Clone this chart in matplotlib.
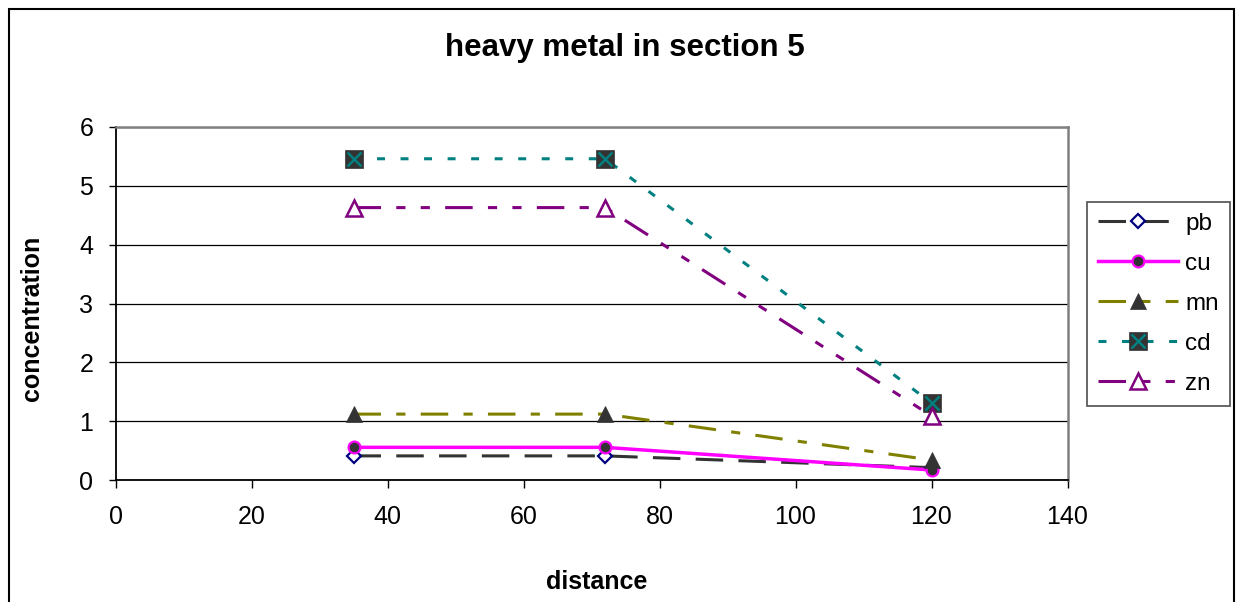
import matplotlib
matplotlib.use("Agg")
import matplotlib.pyplot as plt
from matplotlib.patches import Rectangle
from matplotlib.legend_handler import HandlerTuple

plt.rcParams['font.family'] = ['Liberation Sans', 'DejaVu Sans']

# ---- data ----
distance = [35, 72, 120]
pb = [0.41, 0.41, 0.21]
cu = [0.555, 0.555, 0.17]
mn = [1.12, 1.12, 0.34]
cd = [5.46, 5.46, 1.31]
zn = [4.63, 4.63, 1.09]
series_names = ["pb", "cu", "mn", "cd", "zn"]
title = "heavy metal in section 5"
xlabel = "distance"
ylabel = "concentration"
xticks = [0, 20, 40, 60, 80, 100, 120, 140]
yticks = [0, 1, 2, 3, 4, 5, 6]

W, H = 1236, 602
fig = plt.figure(figsize=(W / 100, H / 100), dpi=100)

# axes placement in pixels
L, R, T, B = 115.5, 1067.5, 127, 480
ax = fig.add_axes([L / W, 1 - B / H, (R - L) / W, (B - T) / H])

dark = "#333333"
lw = 2.2

l_pb, = ax.plot(distance, pb, color=dark, lw=lw, dashes=(9, 5),
                marker="D", ms=7, mfc="white", mec="#000080", mew=1.6, zorder=3)
l_cu, = ax.plot(distance, cu, color="#ff00ff", lw=lw + 0.3,
                marker="o", ms=8.5, mfc=dark, mec="#ff00ff", mew=1.6, zorder=3)
l_mn, = ax.plot(distance, mn, color="#808000", lw=lw, dashes=(9, 5, 3, 5),
                marker="^", ms=11, mfc=dark, mec=dark, mew=0.5, zorder=3)
l_cd, = ax.plot(distance, cd, color="#008080", lw=lw, dashes=(2.6, 5.1),
                marker="s", ms=12.5, mfc=dark, mec=dark, mew=0.5, zorder=3)
l_cdx, = ax.plot(distance, cd, ls="none", marker="x", ms=10, mec="#008080",
                 mew=1.8, zorder=4)
l_zn, = ax.plot(distance, zn, color="#800080", lw=lw, dashes=(9, 5, 3, 5, 3, 5),
                marker="^", ms=11, mfc="white", mec="#800080", mew=1.8, zorder=3)

ax.set_xlim(0, 140)
ax.set_ylim(0, 6)
ax.set_xticks(xticks)
ax.set_yticks(yticks)
ax.set_xticklabels([str(v) for v in xticks])
ax.set_yticklabels([str(v) for v in yticks])
ax.grid(axis="y", color="black", lw=0.9)
ax.set_axisbelow(True)
for s in ["left", "bottom"]:
    ax.spines[s].set_color("black")
    ax.spines[s].set_linewidth(1.3)
for s in ["top", "right"]:
    ax.spines[s].set_color("#808080")
    ax.spines[s].set_linewidth(1.8)
ax.tick_params(axis="x", direction="out", length=6, width=1, pad=12, labelsize=18)
ax.tick_params(axis="y", direction="out", length=5, width=1, pad=11, labelsize=18)

fig.text(625 / W, 1 - 48 / H, title, ha="center", va="center",
         fontsize=22.5, fontweight="bold")
fig.text(597 / W, 1 - 582 / H, xlabel, ha="center", va="center",
         fontsize=18, fontweight="bold")
fig.text(32 / W, 1 - 318 / H, ylabel, ha="center", va="center",
         fontsize=18, fontweight="bold", rotation=90)

handles = [l_pb, l_cu, l_mn, (l_cd, l_cdx), l_zn]
leg = fig.legend(handles, series_names, loc="upper left",
                 bbox_to_anchor=(1087 / W, 1 - 202 / H), borderaxespad=0,
                 fontsize=17.5, frameon=True, fancybox=False, numpoints=1,
                 handlelength=3.3, handletextpad=0.3, labelspacing=0.74,
                 borderpad=0.45,
                 handler_map={tuple: HandlerTuple(ndivide=1, pad=0)})
leg.get_frame().set_edgecolor(dark)
leg.get_frame().set_linewidth(1.3)

# outer chart-area border
fig.patches.append(Rectangle((8.5 / W, -0.05), (1234 - 8.5) / W, 1 - 8.5 / H + 0.05,
                             transform=fig.transFigure, fill=False,
                             edgecolor="black", lw=1.5, clip_on=False))

fig.savefig("out.png", dpi=100)
